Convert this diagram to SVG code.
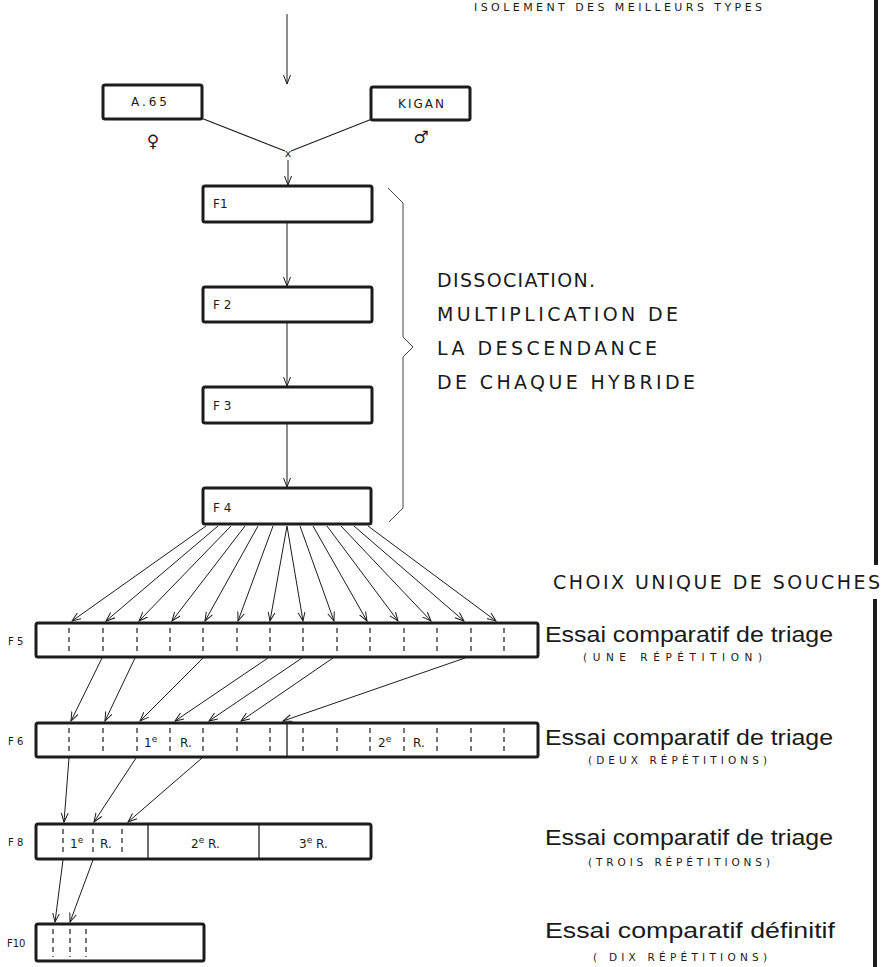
<svg xmlns="http://www.w3.org/2000/svg" width="885" height="967" viewBox="0 0 885 967">
<style>
.box{fill:#fff;stroke:#1c1c1c;stroke-width:3;}
.div{stroke:#1c1c1c;stroke-width:1.2;stroke-dasharray:5,4;}
.sol{stroke:#1c1c1c;stroke-width:1.3;}
.con{stroke:#1c1c1c;stroke-width:1;fill:none;marker-end:url(#ah);}
.ln{stroke:#1c1c1c;stroke-width:1.1;fill:none;}
.lbl{font-family:"DejaVu Sans",sans-serif;font-size:11px;fill:#1a1a1a;}
.sm{font-family:"DejaVu Sans",sans-serif;font-size:10px;fill:#1a1a1a;}
.in{font-family:"DejaVu Sans",sans-serif;font-size:12px;fill:#1a1a1a;}
.sym{font-family:"DejaVu Sans",sans-serif;font-size:17px;fill:#1a1a1a;}
.big{font-family:"DejaVu Sans",sans-serif;font-size:19px;fill:#1a1a1a;}
.ess{font-family:"Liberation Sans",Arial,sans-serif;font-size:22px;fill:#1a1a1a;}
.sub{font-family:"DejaVu Sans",sans-serif;font-size:10.5px;fill:#1a1a1a;}
.bar{fill:#1c1c1c;}
</style>
<defs>
<marker id="ah" markerUnits="userSpaceOnUse" markerWidth="12" markerHeight="10" refX="9" refY="4" orient="auto">
<path d="M0,0.5 L9,4 L0,7.5" fill="none" stroke="#1c1c1c" stroke-width="1"/>
</marker>
</defs>
<rect width="885" height="967" fill="#fff"/>

<rect class="bar" x="874" y="0" width="4" height="565"/>
<rect class="bar" x="873" y="599" width="4" height="368"/>

<text class="lbl" x="474" y="11" textLength="288" lengthAdjust="spacing">ISOLEMENT DES MEILLEURS TYPES</text>

<g id="connectors">
<line class="con" x1="287" y1="14" x2="287" y2="84"/>
<line class="ln" x1="201" y1="118" x2="285" y2="151"/>
<line class="ln" x1="372" y1="119" x2="291" y2="151"/>
<line class="con" x1="288" y1="160" x2="288" y2="185"/>
<line class="con" x1="287" y1="223" x2="287" y2="286"/>
<line class="con" x1="287" y1="323" x2="287" y2="386"/>
<line class="con" x1="287" y1="424" x2="287" y2="487"/>
<line class="con" x1="206" y1="526" x2="72" y2="621"/>
<line class="con" x1="218" y1="526" x2="106" y2="621"/>
<line class="con" x1="231" y1="526" x2="139" y2="621"/>
<line class="con" x1="245" y1="526" x2="172" y2="621"/>
<line class="con" x1="258" y1="526" x2="205" y2="621"/>
<line class="con" x1="273" y1="526" x2="238" y2="621"/>
<line class="con" x1="287" y1="526" x2="270" y2="621"/>
<line class="con" x1="287" y1="526" x2="303" y2="621"/>
<line class="con" x1="300" y1="526" x2="334" y2="621"/>
<line class="con" x1="313" y1="526" x2="367" y2="621"/>
<line class="con" x1="327" y1="526" x2="398" y2="621"/>
<line class="con" x1="341" y1="526" x2="431" y2="621"/>
<line class="con" x1="354" y1="526" x2="464" y2="621"/>
<line class="con" x1="368" y1="526" x2="496" y2="621"/>
<line class="con" x1="102" y1="658" x2="71" y2="721"/>
<line class="con" x1="135" y1="658" x2="105" y2="721"/>
<line class="con" x1="203" y1="658" x2="140" y2="721"/>
<line class="con" x1="268" y1="658" x2="175" y2="721"/>
<line class="con" x1="302" y1="658" x2="209" y2="721"/>
<line class="con" x1="333" y1="658" x2="241" y2="721"/>
<line class="con" x1="465" y1="658" x2="283" y2="721"/>
<line class="con" x1="69" y1="758" x2="64" y2="822"/>
<line class="con" x1="136" y1="758" x2="94" y2="822"/>
<line class="con" x1="202" y1="758" x2="128" y2="822"/>
<line class="con" x1="63" y1="860" x2="55" y2="922"/>
<line class="con" x1="93" y1="860" x2="70" y2="922"/>
<path d="M388,188 L403,203 L403,337 L413,347 L403,357 L403,508 L389,522" fill="none" stroke="#444" stroke-width="1"/>
</g>

<g id="A65">
<rect class="box" x="103" y="85" width="99" height="34" rx="2"/>
<text class="in" x="131" y="106" textLength="36" lengthAdjust="spacing">A.65</text>
<text class="sym" x="153" y="147" text-anchor="middle">♀</text>
</g>
<g id="KIGAN">
<rect class="box" x="371" y="87" width="99" height="33" rx="2"/>
<text class="in" x="398" y="108" textLength="46" lengthAdjust="spacing">KIGAN</text>
<text class="sym" x="421" y="143" text-anchor="middle">♂</text>
</g>
<g id="cross">
<text class="lbl" x="288" y="157" text-anchor="middle">x</text>
</g>

<g id="F1">
<rect class="box" x="203" y="186" width="169" height="36" rx="2"/>
<text class="in" x="213" y="208">F1</text>
</g>
<g id="F2">
<rect class="box" x="203" y="287" width="169" height="35" rx="2"/>
<text class="in" x="213" y="309">F 2</text>
</g>
<g id="F3">
<rect class="box" x="203" y="387" width="169" height="36" rx="2"/>
<text class="in" x="213" y="410">F 3</text>
</g>
<g id="F4">
<rect class="box" x="203" y="488" width="168" height="36" rx="2"/>
<text class="in" x="213" y="512">F 4</text>
</g>

<g id="dissociation">
<text class="big" x="437" y="287" textLength="158" lengthAdjust="spacing">DISSOCIATION.</text>
<text class="big" x="437" y="321" textLength="241" lengthAdjust="spacing">MULTIPLICATION  DE</text>
<text class="big" x="437" y="355" textLength="220" lengthAdjust="spacing">LA  DESCENDANCE</text>
<text class="big" x="437" y="389" textLength="258" lengthAdjust="spacing">DE  CHAQUE  HYBRIDE</text>
</g>

<text class="big" x="553" y="589" textLength="327" lengthAdjust="spacing">CHOIX UNIQUE DE SOUCHES</text>

<g id="F5">
<rect class="box" x="36" y="623" width="502" height="34" rx="2"/>
<text class="sm" x="8" y="645">F 5</text>
<path class="div" d="M69,628V653M103,628V653M137,628V653M170,628V653M203,628V653M237,628V653M270,628V653M303,628V653M337,628V653M370,628V653M404,628V653M437,628V653M471,628V653M504,628V653"/>
<text class="ess" x="545" y="642" textLength="288" lengthAdjust="spacingAndGlyphs">Essai comparatif de triage</text>
<text class="sub" x="583" y="661" textLength="179" lengthAdjust="spacing">(UNE RÉPÉTITION)</text>
</g>

<g id="F6">
<rect class="box" x="36" y="723" width="502" height="34" rx="2"/>
<text class="sm" x="8" y="745">F 6</text>
<path class="div" d="M69,728V753M103,728V753M137,728V753M170,728V753M203,728V753M237,728V753M270,728V753M303,728V753M337,728V753M370,728V753M404,728V753M437,728V753M471,728V753M504,728V753"/>
<line class="sol" x1="287" y1="724" x2="287" y2="756"/>
<text class="in" x="144" y="747">1<tspan dy="-5" font-size="9">e</tspan></text>
<text class="in" x="180" y="747">R.</text>
<text class="in" x="378" y="747">2<tspan dy="-5" font-size="9">e</tspan></text>
<text class="in" x="413" y="747">R.</text>
<text class="ess" x="545" y="745" textLength="288" lengthAdjust="spacingAndGlyphs">Essai comparatif de triage</text>
<text class="sub" x="588" y="764" textLength="179" lengthAdjust="spacing">(DEUX RÉPÉTITIONS)</text>
</g>

<g id="F8">
<rect class="box" x="36" y="824" width="335" height="35" rx="2"/>
<text class="sm" x="8" y="846">F 8</text>
<path class="div" d="M63,829V855M93,829V855M122,829V855"/>
<line class="sol" x1="148" y1="825" x2="148" y2="858"/>
<line class="sol" x1="259" y1="825" x2="259" y2="858"/>
<text class="in" x="70" y="848">1<tspan dy="-5" font-size="9">e</tspan></text>
<text class="in" x="100" y="848">R.</text>
<text class="in" x="191" y="848">2<tspan dy="-5" font-size="9">e</tspan><tspan dy="5"> R.</tspan></text>
<text class="in" x="299" y="848">3<tspan dy="-5" font-size="9">e</tspan><tspan dy="5"> R.</tspan></text>
<text class="ess" x="545" y="845" textLength="288" lengthAdjust="spacingAndGlyphs">Essai comparatif de triage</text>
<text class="sub" x="588" y="866" textLength="182" lengthAdjust="spacing">(TROIS RÉPÉTITIONS)</text>
</g>

<g id="F10">
<rect class="box" x="36" y="924" width="168" height="37" rx="2"/>
<text class="sm" x="7" y="947">F10</text>
<path class="div" d="M53,929V957M70,929V957M86,929V957"/>
<text class="ess" x="545" y="938" textLength="290" lengthAdjust="spacingAndGlyphs">Essai comparatif définitif</text>
<text class="sub" x="593" y="961" textLength="174" lengthAdjust="spacing">( DIX RÉPÉTITIONS)</text>
</g>
</svg>
